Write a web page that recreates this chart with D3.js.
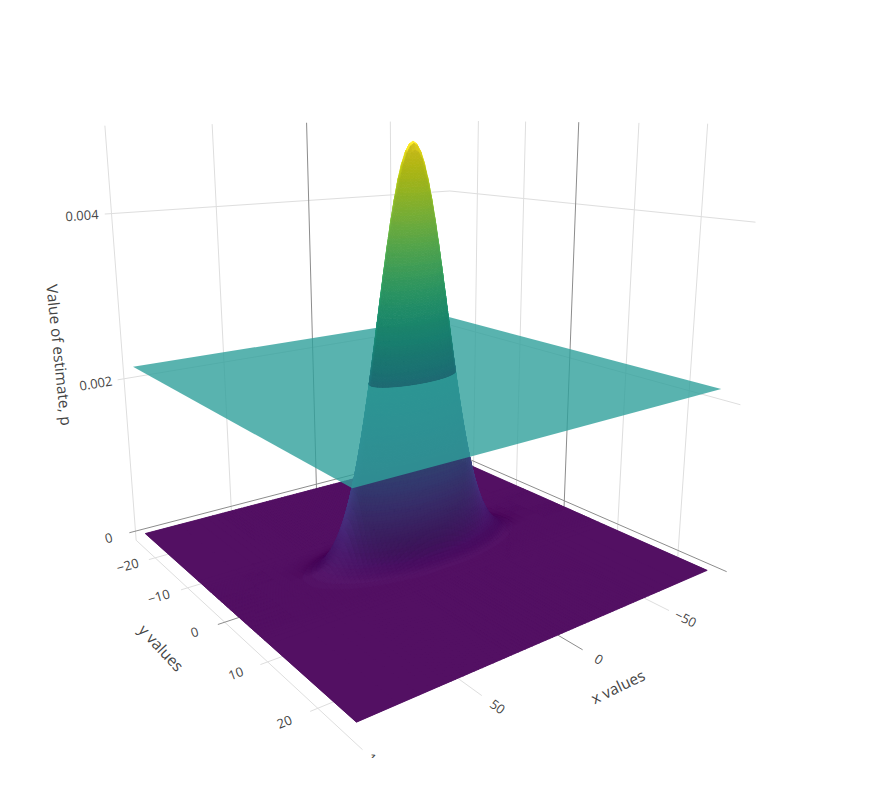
<!doctype html>
<html lang="en">
<head>
    <meta charset="utf-8">
    <script src="https://d3js.org/d3.v7.min.js"></script>
    <style>
        html, body { margin: 0; padding: 0; background: #fff; }
        text { font-family: "Open Sans", sans-serif; fill: #444; }
    </style>
</head>
<body>
<svg id="svg" width="896" height="789"></svg>
<script>
    // tick labels
    var xTicks = [100, 50, 0, -50];
    var yTicks = [-20, -10, 0, 10, 20];
    var zTicks = [0, 0.002, 0.004];

    // axis box and surface extent
    var xBox = [-89.7, 100];
    var yBox = [-26.5, 26.8];
    var zBox = [-0.000125, 0.005];
    var xSurface = [-84, 97.3];
    var ySurface = [-25, 25.6];

    // the bump: peak height, centre, spread
    var zPeak = 0.00483;
    var xCentre = 6.7;
    var yCentre = 0.3;
    var xSpread = 17.5;
    var ySpread = 2.08;
    var planeLevel = 0.00217;

    // bump cross-section, height share at each distance from the centre
    var offsets = [0, 0.1, 0.2, 0.3, 0.4, 0.5, 0.6, 0.7, 0.8, 0.9, 1, 1.1, 1.2, 1.3, 1.4, 1.5, 1.6, 1.7,
        1.8, 1.9, 2, 2.1, 2.2, 2.3, 2.4, 2.5, 2.6, 2.7, 2.8, 2.9, 3, 3.2, 3.4, 3.7, 4.2];
    var shares = [1, 0.995, 0.9802, 0.956, 0.9231, 0.8825, 0.8353, 0.7827, 0.7261, 0.667, 0.6065, 0.5461,
        0.4868, 0.4296, 0.3753, 0.3247, 0.278, 0.2357, 0.1979, 0.1645, 0.1353, 0.1103, 0.0889, 0.071,
        0.0561, 0.0439, 0.034, 0.0261, 0.0198, 0.0149, 0.0111, 0.006, 0.0031, 0.0011, 0.0001];

    // unit cube scales
    var xScale = d3.scaleLinear().domain([-100, 100]).range([-1, 1]);
    var yScale = d3.scaleLinear().domain([-30, 30]).range([-1, 1]);
    var zScale = d3.scaleLinear().domain([0, 0.005]).range([0, 1]);
    var colour = d3.scaleSequential(d3.interpolateViridis).domain([0, zPeak]);

    // camera matrix fitted to the gridlines of the picture
    var camera = [
        [-228.4177, 61.93692, -42.42086, 423.9877],
        [-12.94253, -21.15516, -434.2951, 546.4893],
        [-0.1275647, -0.1893823, -0.1010985, 1]
    ];

    var project = function (x, y, z) {
        var v = [xScale(x), yScale(y), zScale(z), 1];
        var w = d3.sum(camera[2], function (c, i) { return c * v[i]; });
        return [d3.sum(camera[0], function (c, i) { return c * v[i]; }) / w,
            d3.sum(camera[1], function (c, i) { return c * v[i]; }) / w];
    };

    var svg = d3.select("#svg");
    svg.append("defs").append("clipPath").attr("id", "scene")
        .append("rect").attr("width", 896).attr("height", 758);
    var scene = svg.append("g").attr("clip-path", "url(#scene)");

    var line = d3.line();

    // gridlines on the two back walls and the floor
    var xEnd = xBox[1] + 3;
    var yEnd = yBox[1] + 0.9;
    var yWallEnd = yBox[1] + 0.4;
    var grid = [];
    var addGrid = function (a, b, zero) { grid.push({a: a, b: b, zero: zero}); };
    xTicks.forEach(function (x) {
        addGrid([x, yBox[0], zBox[0]], [x, yBox[0], zBox[1]], x === 0);
        addGrid([x, yBox[0], zBox[0]], [x, yEnd, zBox[0]], x === 0);
    });
    yTicks.forEach(function (y) {
        addGrid([xBox[0], y, zBox[0]], [xBox[0], y, zBox[1]], y === 0);
        addGrid([xBox[0], y, zBox[0]], [xEnd, y, zBox[0]], y === 0);
    });
    zTicks.forEach(function (z) {
        addGrid([xEnd, yBox[0], z], [xBox[0], yBox[0], z], z === 0);
        addGrid([xBox[0], yBox[0], z], [xBox[0], yWallEnd, z], z === 0);
    });

    scene.append("g").selectAll("path")
        .data(grid.slice().sort(function (p, q) { return d3.ascending(p.zero, q.zero); }))
        .join("path")
        .attr("d", function (d) { return line([project.apply(null, d.a), project.apply(null, d.b)]); })
        .attr("fill", "none")
        .attr("stroke", function (d) { return d.zero ? "#8c8c8c" : "#dedede"; })
        .attr("stroke-width", 1);

    // surface grid
    var mirrored = function (centre, spread, edges) {
        var values = [edges[0]];
        var weights = [0];
        for (var i = offsets.length - 1; i > 0; i--) {
            values.push(centre - offsets[i] * spread);
            weights.push(shares[i]);
        }
        offsets.forEach(function (o, i) {
            values.push(centre + o * spread);
            weights.push(shares[i]);
        });
        values.push(edges[1]);
        weights.push(0);
        return {values: values, weights: weights};
    };
    var xGrid = mirrored(xCentre, xSpread, xSurface);
    var yGrid = mirrored(yCentre, ySpread, ySurface);

    // lighting as the gl surface does it: ambient + diffuse + cook torrance
    var view = [0.563, 0.79, 0.239];
    var light = [-0.139, -0.195, 0.97];
    var dot = function (a, b) { return a[0] * b[0] + a[1] * b[1] + a[2] * b[2]; };
    var unit = function (a) {
        var n = Math.sqrt(dot(a, a));
        return [a[0] / n, a[1] / n, a[2] / n];
    };
    var half = unit([view[0] + light[0], view[1] + light[1], view[2] + light[2]]);
    var specularGlow = 15;

    var specular = function (n) {
        var vn = Math.max(dot(view, n), 0);
        var ln = Math.max(dot(light, n), 0);
        var nh = Math.max(dot(n, half), 1e-6);
        var vh = Math.max(dot(view, half), 1e-6);
        var lh = Math.max(dot(light, half), 1e-6);
        var g = Math.min(1, 2 * nh * vn / vh, 2 * nh * ln / lh);
        var c2 = nh * nh;
        var d = Math.exp((c2 - 1) / c2 / 0.25) / (Math.PI * 0.25 * c2 * c2);
        var f = Math.pow(1 - vn, 0.2);
        // the flat floor already sits at the cap
        return Math.min(1, Math.max(0, 2.5 * g * f * d / Math.max(Math.PI * vn, 1e-6)));
    };

    var shade = function (base, n) {
        var c = d3.rgb(base);
        var lit = Math.min(0.8 + 0.8 * Math.max(dot(n, light), 0), 1);
        var s = specularGlow * specular(n);
        return d3.rgb(c.r * lit + s, c.g * lit + s, c.b * lit + s).formatRgb();
    };

    // display space of the cube, used only for normals
    var displayX = d3.scaleLinear().domain(xBox).range([0, 1]);
    var displayY = d3.scaleLinear().domain(yBox).range([0, 1]);

    var heightAt = function (i, j) { return zPeak * xGrid.weights[i] * yGrid.weights[j]; };

    // colour bands: the plane level is one of the cuts
    var bandCount = 160;
    var bandEdges = d3.range(bandCount + 1).map(function (k) { return zPeak * k / bandCount; });
    bandEdges.push(planeLevel);
    bandEdges.sort(d3.ascending);

    // keep the part of a quad between two levels
    var clipBelow = function (points, level, keepBelow) {
        var out = [];
        var side = function (p) { return keepBelow ? p[2] <= level : p[2] >= level; };
        points.forEach(function (p, k) {
            var q = points[(k + 1) % points.length];
            if (side(p)) out.push(p);
            if (side(p) !== side(q)) {
                var t = (level - p[2]) / (q[2] - p[2]);
                out.push([p[0] + t * (q[0] - p[0]), p[1] + t * (q[1] - p[1]), level]);
            }
        });
        return out;
    };

    // far to near, camera sits on the +x +y side
    var lower = [], upper = [];
    var addPatch = function (points, normal, mid) {
        var patch = {points: points, fill: shade(colour(mid), normal)};
        if (mid < planeLevel) lower.push(patch); else upper.push(patch);
    };
    for (var i = 0; i < xGrid.values.length - 1; i++) {
        for (var j = 0; j < yGrid.values.length - 1; j++) {
            var corners = [
                [xGrid.values[i], yGrid.values[j], heightAt(i, j)],
                [xGrid.values[i + 1], yGrid.values[j], heightAt(i + 1, j)],
                [xGrid.values[i + 1], yGrid.values[j + 1], heightAt(i + 1, j + 1)],
                [xGrid.values[i], yGrid.values[j + 1], heightAt(i, j + 1)]
            ];
            var dx = displayX(xGrid.values[i + 1]) - displayX(xGrid.values[i]);
            var dy = displayY(yGrid.values[j + 1]) - displayY(yGrid.values[j]);
            var dzx = (corners[1][2] + corners[2][2] - corners[0][2] - corners[3][2]) / 2 / (zBox[1] - zBox[0]);
            var dzy = (corners[2][2] + corners[3][2] - corners[0][2] - corners[1][2]) / 2 / (zBox[1] - zBox[0]);
            var normal = unit([-dzx / dx, -dzy / dy, 1]);

            // the far side of the bump is never seen
            if (dot(normal, view) < -0.2) continue;

            var heights = corners.map(function (c) { return c[2]; });
            var lo = d3.min(heights), hi = d3.max(heights);
            var first = d3.bisectRight(bandEdges, lo) - 1;
            var last = d3.bisectLeft(bandEdges, hi);
            for (var b = Math.max(first, 0); b < last; b++) {
                var piece = clipBelow(clipBelow(corners, bandEdges[b], false), bandEdges[b + 1], true);
                if (piece.length > 2) addPatch(piece, normal, (bandEdges[b] + bandEdges[b + 1]) / 2);
            }
            if (hi === lo) addPatch(corners, normal, lo);
        }
    }

    var polygon = function (d) {
        return line(d.points.map(function (p) { return project(p[0], p[1], p[2]); })) + "Z";
    };
    var drawPatches = function (patches) {
        scene.append("g").selectAll("path")
            .data(patches)
            .join("path")
            .attr("d", polygon)
            .attr("fill", function (d) { return d.fill; })
            .attr("stroke", function (d) { return d.fill; })
            .attr("stroke-width", 0.8)
            .attr("stroke-linejoin", "round");
    };

    var flatSheet = function (level) {
        return {points: [
            [xSurface[0], ySurface[0], level],
            [xSurface[1], ySurface[0], level],
            [xSurface[1], ySurface[1], level],
            [xSurface[0], ySurface[1], level]
        ]};
    };

    // backing sheet so the patch seams never let the white through
    scene.append("path")
        .datum(flatSheet(0))
        .attr("d", polygon)
        .attr("fill", shade(colour(0), [0, 0, 1]));

    drawPatches(lower);

    // flat plane through the bump
    scene.append("path")
        .datum(flatSheet(planeLevel))
        .attr("d", polygon)
        .attr("fill", shade(d3.interpolateViridis(0.5), [0, 0, 1]))
        .attr("fill-opacity", 0.8);

    drawPatches(upper);

    // tick labels lie along their tick lines
    var tickLabel = function (text, from, to) {
        var a = project.apply(null, from);
        var b = project.apply(null, to);
        var angle = Math.atan2(b[1] - a[1], b[0] - a[0]) * 180 / Math.PI;
        if (angle > 90) angle -= 180;
        if (angle < -90) angle += 180;
        scene.append("text")
            .attr("transform", "translate(" + b[0] + "," + b[1] + ") rotate(" + angle + ")")
            .attr("text-anchor", "middle")
            .attr("dy", "0.35em")
            .attr("font-size", 13)
            .text(text);
    };
    var fmt = function (v) { return String(v).replace("-", "\u2212"); };

    xTicks.forEach(function (x) {
        tickLabel(fmt(x), [x, yBox[1], zBox[0]], [x, yBox[1] + 3.2, zBox[0]]);
    });
    yTicks.forEach(function (y) {
        tickLabel(fmt(y), [xBox[1], y, zBox[0]], [xBox[1] + 13, y, zBox[0]]);
    });
    zTicks.forEach(function (z) {
        tickLabel(fmt(z), [xBox[1], yBox[0], z], [xBox[1] + 13, yBox[0], z]);
    });

    // axis titles
    var titles = [
        {text: "x values", x: 618, y: 687, angle: -26},
        {text: "y values", x: 161, y: 648, angle: 47},
        {text: "Value of estimate, p", x: 59, y: 355, angle: 84}
    ];
    scene.append("g").selectAll("text")
        .data(titles)
        .join("text")
        .attr("transform", function (d) { return "translate(" + d.x + "," + d.y + ") rotate(" + d.angle + ")"; })
        .attr("text-anchor", "middle")
        .attr("dy", "0.35em")
        .attr("font-size", 15.4)
        .text(function (d) { return d.text; });
</script>
</body>
</html>
